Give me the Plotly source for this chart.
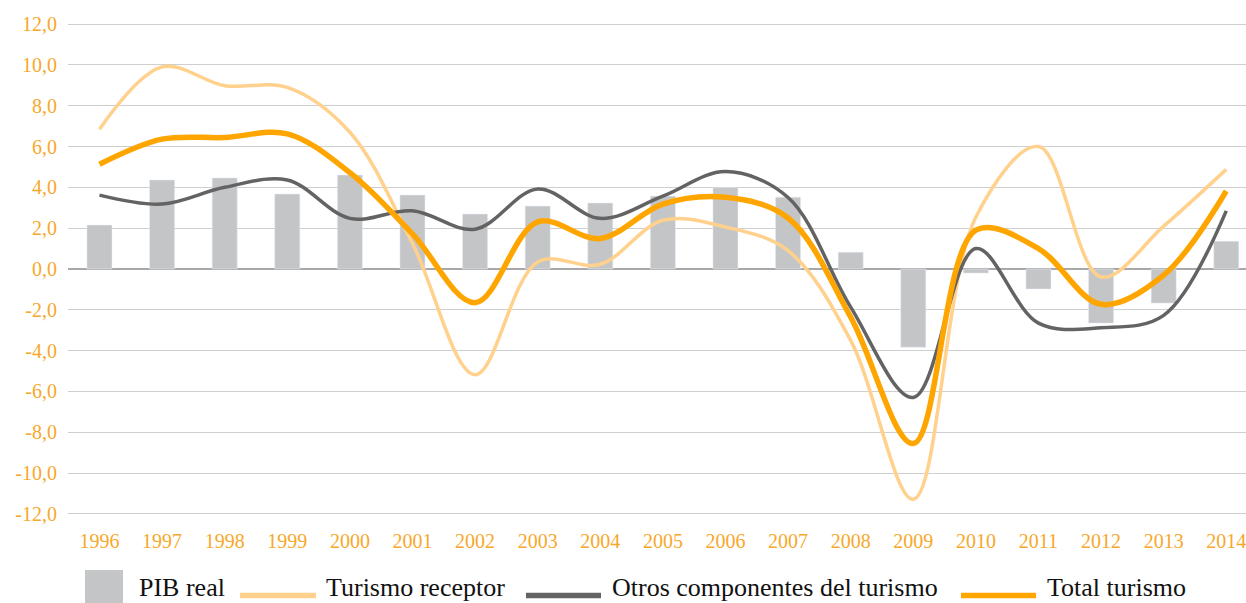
import plotly.graph_objects as go

years = [str(y) for y in range(1996, 2015)]
pib_real = [2.15, 4.36, 4.46, 3.67, 4.60, 3.62, 2.69, 3.08, 3.23, 3.57, 3.98, 3.52, 0.82, -3.83, -0.20, -0.98, -2.65, -1.67, 1.36]
turismo_receptor = [6.85, 9.9, 8.98, 8.9, 6.7, 1.25, -5.18, 0.34, 0.23, 2.39, 2.06, 0.9, -3.5, -11.28, 2.55, 6.0, -0.39, 2.1, 4.88]
otros_componentes = [3.62, 3.18, 4.0, 4.36, 2.48, 2.85, 1.95, 3.92, 2.48, 3.57, 4.77, 3.5, -1.87, -6.29, 1.0, -2.65, -2.88, -2.27, 2.85]
total_turismo = [5.13, 6.36, 6.44, 6.62, 4.72, 1.72, -1.65, 2.31, 1.49, 3.18, 3.51, 2.5, -2.36, -8.55, 1.9, 1.0, -1.73, -0.3, 3.82]

y_ticks = list(range(-12, 13, 2))
y_ticktext = [f"{v},0" for v in y_ticks]

legend_names = ["PIB real", "Turismo receptor", "Otros componentes del turismo", "Total turismo"]

C_BAR = "#C4C5C7"
C_LIGHT = "#FFD18C"
C_DARK = "#636363"
C_ORANGE = "#FFA500"
C_TICK = "#F7A82A"
FONT = "Liberation Serif"

fig = go.Figure()
fig.add_trace(go.Bar(x=years, y=pib_real, name=legend_names[0], marker_color=C_BAR, width=0.4))
fig.add_trace(go.Scatter(x=years, y=turismo_receptor, name=legend_names[1], mode="lines",
                         line=dict(color=C_LIGHT, width=3.5, shape="spline", smoothing=1)))
fig.add_trace(go.Scatter(x=years, y=otros_componentes, name=legend_names[2], mode="lines",
                         line=dict(color=C_DARK, width=3.5, shape="spline", smoothing=1)))
fig.add_trace(go.Scatter(x=years, y=total_turismo, name=legend_names[3], mode="lines",
                         line=dict(color=C_ORANGE, width=5.5, shape="spline", smoothing=1)))

W, H = 1246, 603
L, R, T, B = 68, 0, 23, 88
pw, ph = W - L - R, H - T - B

def px_x(p):
    return (p - L) / pw

def px_y(p):
    return (H - B - p) / ph

# manual legend (symbols + labels)
shapes = []
annotations = []
shapes.append(dict(type="rect", xref="paper", yref="paper",
                   x0=px_x(85), x1=px_x(123), y0=px_y(611), y1=px_y(570),
                   fillcolor=C_BAR, line=dict(width=0), layer="above"))
for (a, b, col) in [(240, 316, C_LIGHT), (526, 601, C_DARK), (961, 1036, C_ORANGE)]:
    shapes.append(dict(type="line", xref="paper", yref="paper",
                       x0=px_x(a), x1=px_x(b), y0=px_y(595.5), y1=px_y(595.5),
                       line=dict(color=col, width=5.5), layer="above"))
for name, tx in zip(legend_names, [137, 324, 610, 1045]):
    annotations.append(dict(text=name, xref="paper", yref="paper", x=px_x(tx), y=px_y(587),
                            xanchor="left", yanchor="middle", showarrow=False,
                            font=dict(family=FONT, size=26, color="#111111")))

fig.update_layout(
    width=W, height=H,
    margin=dict(l=L, r=R, t=T, b=B, pad=0),
    paper_bgcolor="white", plot_bgcolor="white",
    showlegend=False,
    bargap=0.6,
    shapes=shapes, annotations=annotations,
    font=dict(family=FONT),
)
fig.update_xaxes(type="category", range=[-0.503, 18.315], showgrid=False, showline=False,
                 ticks="", tickfont=dict(family=FONT, size=20, color=C_TICK),
                 ticklabelstandoff=12)
fig.update_yaxes(range=[-12.05, 12.05], tickvals=y_ticks, ticktext=y_ticktext,
                 showgrid=True, gridcolor="#CFCFCF", gridwidth=1.2,
                 zeroline=True, zerolinecolor="#A8A8A8", zerolinewidth=1.8,
                 showline=False, ticks="",
                 tickfont=dict(family=FONT, size=20, color=C_TICK),
                 ticklabelstandoff=10)

fig.write_html("out.html", config={"displayModeBar": False},
               post_script="document.body.style.margin='0';document.body.style.padding='0';document.body.style.overflow='hidden';")
